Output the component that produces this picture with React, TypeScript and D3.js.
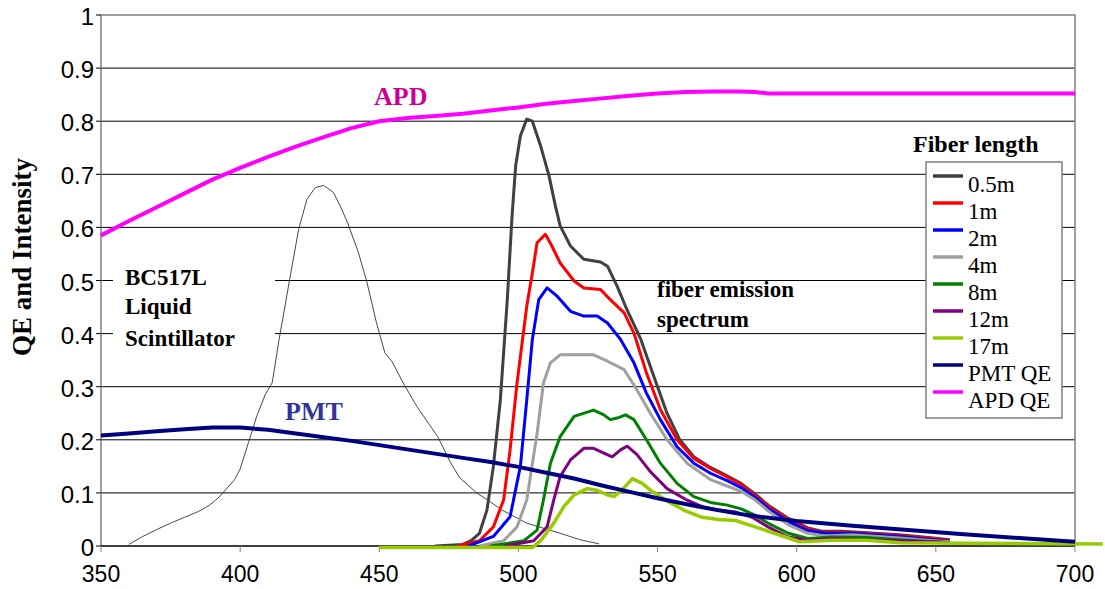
import React from "react";
import * as d3 from "d3";

type P = [number, number];

const xTicks = [350, 400, 450, 500, 550, 600, 650, 700];
const yTicks = [0, 0.1, 0.2, 0.3, 0.4, 0.5, 0.6, 0.7, 0.8, 0.9, 1];

const scintillator: P[] = [[360,0.003],[365,0.018],[370,0.031],[375,0.043],[380,0.054],[385,0.065],[389,0.077],[392,0.09],[395,0.107],[398,0.125],[400,0.145],[403,0.195],[406,0.245],[409,0.285],[411.5,0.307],[414,0.389],[418,0.508],[421,0.596],[424,0.653],[427,0.675],[430,0.679],[433.5,0.666],[436,0.64],[438.5,0.61],[442.5,0.553],[445.6,0.496],[449,0.42],[452,0.364],[454.6,0.347],[458.6,0.307],[463.6,0.262],[471,0.206],[475.6,0.157],[479,0.128],[485,0.1],[490,0.083],[494,0.068],[503,0.043],[515,0.024],[522,0.012],[529,0.004]];

const fiber05m: P[] = [[470,0],[480,0.003],[483,0.01],[486,0.024],[488.7,0.068],[491,0.15],[493.5,0.275],[496,0.464],[497.7,0.621],[499,0.716],[500.7,0.772],[503,0.804],[505,0.8],[508,0.753],[511,0.697],[513.3,0.64],[515,0.603],[518.7,0.565],[523.5,0.54],[529.5,0.535],[532,0.527],[535.5,0.489],[539,0.445],[544,0.389],[548.6,0.32],[553.4,0.25],[558,0.2],[563,0.168],[569,0.148],[575,0.132],[580,0.118],[585,0.098],[590,0.076],[597,0.052],[604,0.034],[609,0.028],[616,0.028],[625,0.025],[637,0.021],[649,0.015],[655,0.012]];
const fiber1m: P[] = [[478,0],[486,0.01],[491,0.036],[494.7,0.087],[497,0.181],[499.5,0.307],[503,0.452],[505,0.514],[506.7,0.571],[509.7,0.587],[512,0.565],[515,0.533],[520,0.499],[523.5,0.486],[529.5,0.483],[533,0.464],[538,0.439],[541.5,0.401],[546,0.326],[551,0.257],[557,0.2],[563,0.165],[569,0.146],[575,0.13],[580,0.116],[585,0.096],[590,0.074],[597,0.05],[604,0.032],[609,0.026],[616,0.026],[625,0.024],[637,0.02],[649,0.014],[655,0.011]];
const fiber2m: P[] = [[482,0],[491,0.018],[497,0.055],[500.7,0.15],[503,0.275],[505,0.389],[507.3,0.464],[510.3,0.486],[514,0.47],[518.7,0.442],[523.5,0.433],[528.3,0.433],[532,0.42],[536.7,0.389],[541.5,0.345],[546,0.288],[551,0.238],[557,0.187],[563,0.156],[569,0.137],[575,0.123],[580,0.11],[585,0.092],[590,0.07],[597,0.046],[604,0.029],[610,0.024],[620,0.024],[637,0.018],[649,0.012],[655,0.009]];
const fiber4m: P[] = [[486,0],[494.7,0.01],[499.5,0.036],[503,0.087],[506.7,0.212],[509,0.307],[511.5,0.345],[515,0.36],[521,0.36],[527,0.36],[532,0.348],[538,0.332],[542.6,0.294],[547.4,0.25],[553.4,0.2],[560.6,0.156],[569,0.125],[575,0.113],[580,0.103],[585,0.087],[590,0.065],[597,0.04],[604,0.024],[610,0.019],[620,0.021],[637,0.015],[649,0.01],[655,0.008]];
const fiber8m: P[] = [[490,0],[502,0.01],[506.7,0.03],[509,0.087],[511.5,0.156],[515,0.206],[520,0.244],[527,0.256],[530.7,0.247],[533,0.238],[535.5,0.241],[538.5,0.247],[541.5,0.238],[546,0.2],[551,0.156],[557,0.118],[563,0.093],[569,0.082],[575,0.077],[580,0.07],[585,0.058],[590,0.042],[597,0.024],[604,0.014],[613,0.017],[625,0.016],[637,0.012],[649,0.008],[655,0.006]];
const fiber12m: P[] = [[495,0],[505.5,0.01],[510.3,0.036],[512.7,0.087],[515,0.131],[518.7,0.162],[523.5,0.184],[527,0.184],[530.7,0.175],[533.7,0.168],[536.7,0.181],[539.1,0.188],[542.6,0.172],[547.4,0.14],[553.4,0.108],[560,0.088],[566,0.074],[572,0.068],[578,0.064],[584,0.054],[590,0.035],[597,0.017],[604,0.011],[613,0.014],[625,0.012],[649,0.008],[655,0.006]];
const fiber17m: P[] = [[450,-0.003],[505,-0.003],[508,0.01],[512.7,0.043],[516.3,0.074],[520,0.096],[524.7,0.108],[528.3,0.105],[532,0.096],[534.3,0.093],[538,0.11],[541,0.127],[544.5,0.118],[548,0.103],[553.4,0.085],[560,0.066],[566,0.054],[572,0.05],[578,0.048],[584,0.038],[592,0.024],[601,0.008],[613,0.011],[625,0.011],[637,0.006],[661,0.005],[710,0.004]];
const pmtQE: P[] = [[350,0.208],[360,0.212],[370,0.216],[380,0.22],[390,0.223],[400,0.223],[410,0.219],[420,0.212],[430,0.205],[440,0.198],[450,0.19],[460,0.182],[470,0.174],[480,0.166],[490,0.158],[500,0.149],[510,0.138],[520,0.127],[530,0.114],[540,0.102],[550,0.09],[560,0.079],[570,0.069],[580,0.06],[590,0.053],[600,0.047],[620,0.038],[640,0.03],[660,0.022],[680,0.015],[700,0.008]];
const apdQE: P[] = [[350,0.585],[360,0.612],[370,0.638],[380,0.664],[390,0.69],[400,0.712],[410,0.733],[420,0.752],[430,0.77],[440,0.787],[450,0.8],[460,0.806],[470,0.81],[480,0.814],[490,0.82],[500,0.826],[510,0.833],[520,0.838],[530,0.843],[540,0.848],[550,0.852],[560,0.855],[570,0.856],[580,0.856],[585,0.855],[590,0.852],[600,0.852],[650,0.852],[700,0.852]];

const seriesNames = ["0.5m", "1m", "2m", "4m", "8m", "12m", "17m", "PMT QE", "APD QE"];
const seriesColors = ["#404040", "#ff0000", "#0000ff", "#a0a0a0", "#008000", "#800080", "#99cc00", "#000080", "#ff00ff"];
const seriesData = [fiber05m, fiber1m, fiber2m, fiber4m, fiber8m, fiber12m, fiber17m, pmtQE, apdQE];
const seriesWidths = [3, 3, 3, 3, 3, 3, 3.5, 4, 4];

const SANS = "'Liberation Sans', Arial, sans-serif";
const SERIF = "'Liberation Serif', 'Times New Roman', serif";

export default function App() {
  const left = 101, right = 1075, top = 15, bottom = 546;
  const x = d3.scaleLinear().domain([350, 700]).range([left, right]);
  const y = d3.scaleLinear().domain([0, 1]).range([bottom, top]);
  const line = d3.line<P>().x(d => x(d[0])).y(d => y(d[1]));

  const legX = 926, legY = 162, legW = 136, legH = 256, rowH = 27;

  return (
    <svg width={1105} height={589} style={{ position: "absolute", left: 0, top: 0, background: "#fff" }}>
      {yTicks.filter(t => t > 0 && t < 1).map(t => (
        <line key={t} x1={left} x2={right} y1={y(t)} y2={y(t)} stroke="#000" strokeWidth={1} />
      ))}
      <path d={`M${left},${bottom}V${top}H${right}V${bottom}`} fill="none" stroke="#808080" strokeWidth={1.5} />
      {yTicks.map(t => (
        <g key={t}>
          <line x1={left - 5} x2={left} y1={y(t)} y2={y(t)} stroke="#000" />
          <text x={94} y={y(t) + 10} textAnchor="end" fontFamily={SANS} fontSize={24} fill="#000">{t === 0 || t === 1 ? String(t) : t.toFixed(1)}</text>
        </g>
      ))}
      <line x1={left} x2={right} y1={bottom} y2={bottom} stroke="#000" strokeWidth={1.5} />
      {xTicks.map(t => (
        <g key={t}>
          <line x1={x(t)} x2={x(t)} y1={bottom} y2={bottom + 6} stroke="#808080" />
          <text x={x(t)} y={582} textAnchor="middle" fontFamily={SANS} fontSize={23} fill="#000">{t}</text>
        </g>
      ))}
      <text transform="translate(31,257) rotate(-90)" textAnchor="middle" fontFamily={SERIF} fontWeight="bold" fontSize={27} fill="#000">QE and Intensity</text>

      <rect x={113} y={258} width={162} height={98} fill="#fff" />
      <text fontFamily={SERIF} fontWeight="bold" fontSize={23} fill="#000">
        <tspan x={125} y={285}>BC517L</tspan>
        <tspan x={125} y={314}>Liquid</tspan>
        <tspan x={125} y={346}>Scintillator</tspan>
      </text>

      <path d={line(scintillator) || ""} fill="none" stroke="#333" strokeWidth={0.9} />

      {seriesData.map((s, i) => (
        <path key={seriesNames[i]} d={line(s) || ""} fill="none" stroke={seriesColors[i]} strokeWidth={seriesWidths[i]} strokeLinejoin="round" />
      ))}

      <text x={374} y={105} fontFamily={SERIF} fontWeight="bold" fontSize={26} fill="#cc0099">APD</text>
      <text x={285} y={420} fontFamily={SERIF} fontWeight="bold" fontSize={26} fill="#333399">PMT</text>
      <text fontFamily={SERIF} fontWeight="bold" fontSize={23} fill="#000">
        <tspan x={657} y={297}>fiber emission</tspan>
        <tspan x={657} y={327}>spectrum</tspan>
      </text>

      <text x={913} y={152} fontFamily={SERIF} fontWeight="bold" fontSize={24} fill="#000">Fiber length</text>
      <rect x={legX} y={legY} width={legW} height={legH} fill="#fff" stroke="#808080" strokeWidth={1.5} />
      {seriesNames.map((n, i) => (
        <g key={n}>
          <line x1={933} x2={963} y1={176 + i * rowH} y2={176 + i * rowH} stroke={seriesColors[i]} strokeWidth={3.5} />
          <text x={968} y={192 + i * rowH} fontFamily={SERIF} fontSize={23} fill="#000">{n}</text>
        </g>
      ))}
    </svg>
  );
}
